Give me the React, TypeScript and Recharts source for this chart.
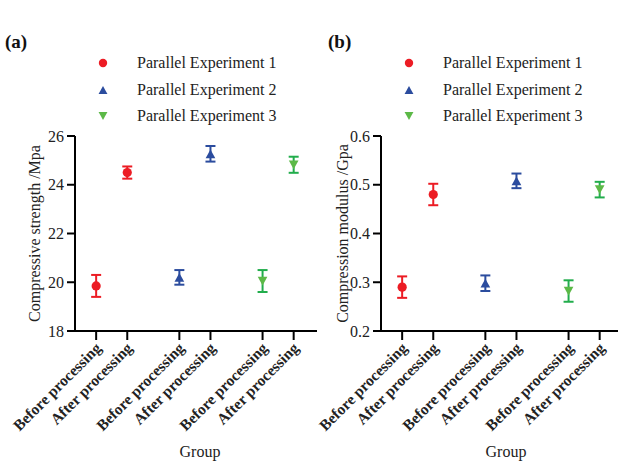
import React from 'react';
import { ScatterChart, Scatter, XAxis, YAxis, ErrorBar } from 'recharts';

// x axis labels (three experiments, before/after each)
const categories = [
  'Before processing',
  'After processing',
  'Before processing',
  'After processing',
  'Before processing',
  'After processing',
];

const seriesNames = ['Parallel Experiment 1', 'Parallel Experiment 2', 'Parallel Experiment 3'];

// (a) compressive strength, Mpa  [before, after]
const strength1 = [19.85, 24.5];
const strength1Err = [0.45, 0.25];
const strength2 = [20.2, 25.27];
const strength2Err = [0.3, 0.32];
const strength3 = [20.05, 24.82];
const strength3Err = [0.45, 0.33];

// (b) compression modulus, Gpa  [before, after]
const modulus1 = [0.29, 0.48];
const modulus1Err = [0.022, 0.022];
const modulus2 = [0.298, 0.508];
const modulus2Err = [0.016, 0.015];
const modulus3 = [0.282, 0.49];
const modulus3Err = [0.022, 0.016];

const strengthTicks = [18, 20, 22, 24, 26];
const modulusTicks = [0.2, 0.3, 0.4, 0.5, 0.6];

const COLORS = ['#ec1c24', '#2b4c9e', '#5cb947'];
const ERR_COLORS = ['#ec1c24', '#2b4c9e', '#22ad4c'];
const FONT = '"Liberation Serif", "Times New Roman", serif';

// category position on the numeric x axis (extra gap between experiments)
const GROUP_STEP = 2.675;
const xPos = (group: number, i: number) => group * GROUP_STEP + i;
const xTicks = [0, 1, 2, 3, 4, 5].map((k) => xPos(Math.floor(k / 2), k % 2));

const toPoints = (group: number, vals: number[], errs: number[]) =>
  vals.map((v, i) => ({ x: xPos(group, i), y: v, err: errs[i] }));

function Marker({ cx, cy, kind, color, size = 4.6 }: any) {
  if (cx == null || cy == null) return null;
  if (kind === 0) return <circle cx={cx} cy={cy} r={size} fill={color} />;
  const h = size * 1.9;
  const w = size * 1.05;
  if (kind === 1) {
    return <polygon points={`${cx},${cy - h / 2} ${cx + w},${cy + h / 2} ${cx - w},${cy + h / 2}`} fill={color} />;
  }
  return <polygon points={`${cx},${cy + h / 2} ${cx + w},${cy - h / 2} ${cx - w},${cy - h / 2}`} fill={color} />;
}

function XTick({ x, y, payload }: any) {
  const idx = xTicks.findIndex((t) => Math.abs(t - payload.value) < 1e-6);
  const label = idx >= 0 ? categories[idx] : '';
  const ax = x + 6;
  const ay = y + 7;
  return (
    <text
      x={ax}
      y={ay}
      textAnchor="end"
      transform={`rotate(-45, ${ax}, ${ay})`}
      fontFamily={FONT}
      fontSize={15.5}
      fontWeight="bold"
      fill="#222"
    >
      {label}
    </text>
  );
}

function LegendBox({ left, top }: { left: number; top: number }) {
  return (
    <div style={{ position: 'absolute', left, top, fontFamily: FONT, fontSize: 16, color: '#222' }}>
      {seriesNames.map((name, i) => (
        <div key={name} style={{ position: 'relative', height: 26.7, lineHeight: '26.7px' }}>
          <svg width={14} height={14} style={{ position: 'absolute', left: 0, top: 6 }}>
            <Marker cx={7} cy={7} kind={i} color={COLORS[i]} size={4.2} />
          </svg>
          <span style={{ position: 'absolute', left: 41, top: 0, whiteSpace: 'nowrap' }}>{name}</span>
        </div>
      ))}
    </div>
  );
}

interface PanelProps {
  series: { x: number; y: number; err: number }[][];
  domain: [number, number];
  ticks: number[];
  yLabel: string;
  decimals: number;
  width: number;
  rightMargin: number;
  labelX: number;
}

function Panel({ series, domain, ticks, yLabel, decimals, width, rightMargin, labelX }: PanelProps) {
  return (
    <ScatterChart
      width={width}
      height={462}
      margin={{ top: 136, right: rightMargin, bottom: 0, left: 0 }}
      style={{ overflow: 'visible' }}
    >
      <XAxis
        type="number"
        dataKey="x"
        domain={[-0.68, 7.1]}
        ticks={xTicks}
        interval={0}
        height={131}
        axisLine={{ stroke: '#000', strokeWidth: 2 }}
        tickLine={{ stroke: '#000', strokeWidth: 2 }}
        tickSize={9}
        tick={<XTick />}
        allowDataOverflow
        label={{
          content: ({ viewBox }: any) => (
            <text
              x={viewBox.x + viewBox.width / 2 + 4}
              y={viewBox.y + 126}
              textAnchor="middle"
              fontFamily={FONT}
              fontSize={16}
              fill="#222"
            >
              Group
            </text>
          ),
        }}
      />
      <YAxis
        type="number"
        dataKey="y"
        domain={domain}
        ticks={ticks}
        interval={0}
        width={75}
        axisLine={{ stroke: '#000', strokeWidth: 2 }}
        tickLine={{ stroke: '#000', strokeWidth: 2 }}
        tickSize={8}
        tickMargin={3}
        tickFormatter={(v: number) => v.toFixed(decimals)}
        tick={{ fontFamily: FONT, fontSize: 16, fill: '#222' }}
        label={{
          content: ({ viewBox }: any) => {
            const cx = labelX;
            const cy = viewBox.y + viewBox.height / 2;
            return (
              <text
                x={cx}
                y={cy}
                textAnchor="middle"
                dominantBaseline="central"
                transform={`rotate(-90, ${cx}, ${cy})`}
                fontFamily={FONT}
                fontSize={16}
                fill="#222"
              >
                {yLabel}
              </text>
            );
          },
        }}
      />
      {series.map((pts, i) => (
        <Scatter
          key={i}
          name={seriesNames[i]}
          data={pts}
          isAnimationActive={false}
          shape={(p: any) => <Marker cx={p.cx} cy={p.cy} kind={i} color={COLORS[i]} />}
        >
          <ErrorBar dataKey="err" direction="y" width={5} stroke={ERR_COLORS[i]} strokeWidth={2} isAnimationActive={false} />
        </Scatter>
      ))}
    </ScatterChart>
  );
}

export default function App() {
  const strengthSeries = [
    toPoints(0, strength1, strength1Err),
    toPoints(1, strength2, strength2Err),
    toPoints(2, strength3, strength3Err),
  ];
  const modulusSeries = [
    toPoints(0, modulus1, modulus1Err),
    toPoints(1, modulus2, modulus2Err),
    toPoints(2, modulus3, modulus3Err),
  ];
  const panelLabel: React.CSSProperties = {
    position: 'absolute',
    top: 31,
    fontFamily: FONT,
    fontSize: 19,
    fontWeight: 'bold',
    color: '#111',
  };
  return (
    <div
      style={{
        position: 'absolute',
        left: 0,
        top: 0,
        width: 618,
        height: 462,
        overflow: 'hidden',
        background: '#fff',
      }}
    >
      <div style={{ position: 'absolute', left: 0, top: 0 }}>
        <Panel
          series={strengthSeries}
          domain={[18, 26]}
          ticks={strengthTicks}
          yLabel="Compressive strength /Mpa"
          decimals={0}
          width={320}
          rightMargin={3}
          labelX={34}
        />
      </div>
      <div style={{ position: 'absolute', left: 306, top: 0 }}>
        <Panel
          series={modulusSeries}
          domain={[0.2, 0.6]}
          ticks={modulusTicks}
          yLabel="Compression modulus /Gpa"
          decimals={1}
          width={317}
          rightMargin={0}
          labelX={36}
        />
      </div>
      <LegendBox left={96} top={50} />
      <LegendBox left={402} top={50} />
      <div style={{ ...panelLabel, left: 5 }}>(a)</div>
      <div style={{ ...panelLabel, left: 328 }}>(b)</div>
    </div>
  );
}
